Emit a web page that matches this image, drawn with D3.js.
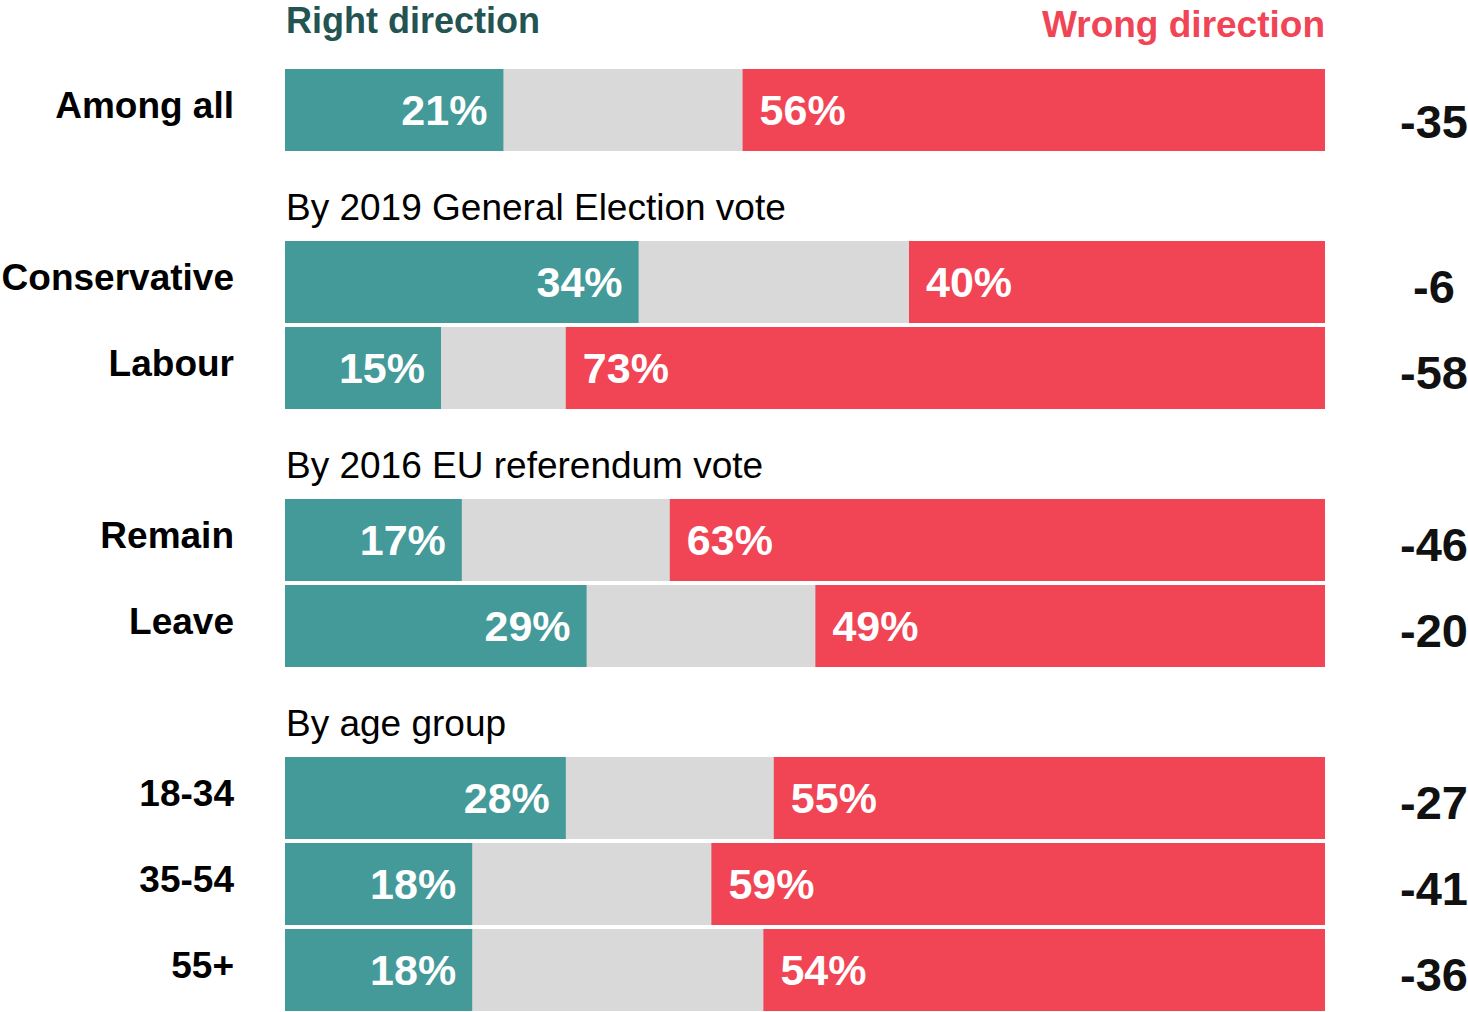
<!DOCTYPE html>
<html><head><meta charset="utf-8">
<script src="https://cdn.jsdelivr.net/npm/d3@7"></script>
<style>
html,body{margin:0;padding:0;background:#fff;}
svg{display:block;font-family:"Liberation Sans",Arial,sans-serif;}
</style></head>
<body>
<svg id="chart" width="1468" height="1012"></svg>
<script>
// ---- data ----
const slots = ["Among all","h1","Conservative","Labour","h2","Remain","Leave","h3","18-34","35-54","55+"];
const headings = {h1:"By 2019 General Election vote", h2:"By 2016 EU referendum vote", h3:"By age group"};
const categories = ["Among all","Conservative","Labour","Remain","Leave","18-34","35-54","55+"];
const rightLabel = [21,34,15,17,29,28,18,18];
const wrongLabel = [56,40,73,63,49,55,59,54];
// bar segment shares as drawn in the picture
const rightBar = [21,34,15,17,29,27,18,18];
const wrongBar = [56,40,73,63,49,53,59,54];
const netValues = [-35,-6,-58,-46,-20,-27,-41,-36];

const C = {teal:"#439a99", grey:"#d9d9d9", red:"#f14455", darkTeal:"#245452", text:"#000", net:"#111"};

const svg = d3.select("#chart");
const x = d3.scaleLinear().domain([0,100]).range([285,1325]);
const y = d3.scaleBand().domain(slots).range([69,1011]).paddingInner(4/86).paddingOuter(0);
const bh = y.bandwidth();

const rows = categories.map((c,i)=>({cat:c, r:rightBar[i], w:wrongBar[i], rl:rightLabel[i], wl:wrongLabel[i], net:netValues[i]}));

// legend headers
svg.append("text").attr("x",x(0)+1).attr("y",33).attr("fill",C.darkTeal)
  .attr("font-size",36).attr("font-weight","bold").text("Right direction");
svg.append("text").attr("x",x(100)).attr("y",37).attr("fill",C.red).attr("text-anchor","end")
  .attr("font-size",37).attr("font-weight","bold").text("Wrong direction");

// section headings
Object.entries(headings).forEach(([k,t])=>{
  svg.append("text").attr("x",x(0)+1).attr("y",y(k)+65).attr("font-size",37).attr("fill",C.text).text(t);
});

const g = svg.selectAll("g.row").data(rows).join("g").attr("class","row")
  .attr("transform",d=>`translate(0,${y(d.cat)})`);

g.append("rect").attr("x",x(0)).attr("width",d=>x(100)-x(0)).attr("height",bh).attr("fill",C.grey);
g.append("rect").attr("x",x(0)).attr("width",d=>x(d.r)-x(0)).attr("height",bh).attr("fill",C.teal);
g.append("rect").attr("x",d=>x(100-d.w)).attr("width",d=>x(100)-x(100-d.w)).attr("height",bh).attr("fill",C.red);

g.append("text").attr("x",d=>x(d.r)-16).attr("y",bh/2+15).attr("text-anchor","end")
  .attr("fill","#fff").attr("font-size",43).attr("font-weight","bold").text(d=>d.rl+"%");
g.append("text").attr("x",d=>x(100-d.w)+17).attr("y",bh/2+15)
  .attr("fill","#fff").attr("font-size",43).attr("font-weight","bold").text(d=>d.wl+"%");

g.append("text").attr("x",234).attr("y",d=>bh/2+8).attr("text-anchor","end")
  .attr("fill",C.text).attr("font-size",37).attr("font-weight","bold").text(d=>d.cat);

g.append("text").attr("x",1434).attr("y",(d,i)=>bh/2+(i===0?28:21)).attr("text-anchor","middle")
  .attr("fill",C.net).attr("font-size",47).attr("font-weight","bold").text(d=>d.net);
</script>
</body></html>
